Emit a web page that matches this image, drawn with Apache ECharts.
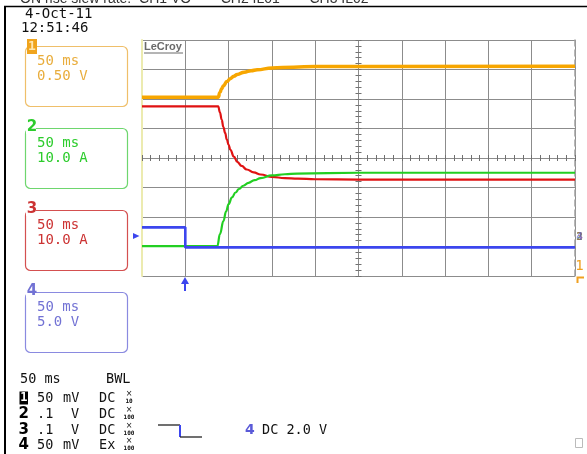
<!DOCTYPE html>
<html>
<head>
<meta charset="utf-8">
<script src="https://cdn.jsdelivr.net/npm/echarts@6/dist/echarts.min.js"></script>
<style>
  html, body { margin: 0; padding: 0; background: #fff; }
  #chart { width: 587px; height: 454px; }
</style>
</head>
<body>
<div id="chart"></div>
<script>
// time: ms from screen centre (50 ms/div), level: screen divisions from centre
const ch1Time  = [-250, -162, -160, -158, -156, -152, -148, -144, -140, -132, -124, -117, -100, -75, -50, 250];
const ch1Level = [2.06, 2.06, 2.22, 2.35, 2.45, 2.59, 2.69, 2.77, 2.83, 2.91, 2.96, 2.99, 3.05, 3.08, 3.10, 3.11];

const ch2Time  = [-250, -163, -160, -156, -153, -150, -146, -142, -138, -133, -127, -120, -113, -100, -85, -71, 0, 250];
const ch2Level = [-2.99, -2.99, -2.58, -2.14, -1.82, -1.56, -1.33, -1.17, -1.05, -0.94, -0.84, -0.75, -0.68, -0.59, -0.55, -0.53, -0.50, -0.50];

const ch3Time  = [-250, -162, -160, -158, -156, -154, -152, -150, -148, -144, -140, -135, -129, -121, -113, -100, -85, -70, -50, 0, 250];
const ch3Level = [1.75, 1.75, 1.55, 1.30, 1.05, 0.85, 0.62, 0.45, 0.28, 0.05, -0.13, -0.27, -0.39, -0.49, -0.56, -0.64, -0.68, -0.70, -0.72, -0.73, -0.73];

const ch4Time  = [-250, -200, -200, 250];
const ch4Level = [-2.35, -2.35, -3.03, -3.03];

const titleText = 'ON rise slew rate:  CH1 VO  —  CH2 IL01  —  CH3 IL02';
const dateText = '4-Oct-11';
const clockText = '12:51:46';

const chanNames = ['1', '2', '3', '4'];
const boxTime = ['50 ms', '50 ms', '50 ms', '50 ms'];
const boxScale = ['0.50 V', '10.0 A', '10.0 A', '5.0 V'];

const timebaseText = '50 ms';
const bwlText = 'BWL';
const rowVolts = ['50', '.1', '.1', '50'];
const rowUnit = ['mV', 'V', 'V', 'mV'];
const rowCoupling = ['DC', 'DC', 'DC', 'Ex'];
const rowProbe = ['10', '100', '100', '100'];
const trigChan = '4';
const trigText = 'DC 2.0 V';

// colours
const traceColors = ['#f7a600', '#22cf22', '#e01212', '#3c46ee'];
const boxStroke = ['#efbf6a', '#6ed66e', '#d45050', '#8a8ae0'];
const boxText = ['#e9ad3c', '#2ccc2c', '#cc3333', '#7272d4'];

const mono = '"DejaVu Sans Mono", monospace';

function zip(t, v) { return t.map((x, i) => [x, v[i]]); }

const chart = echarts.init(document.getElementById('chart'));

const g = [];
// cut title at very top
g.push({ type: 'text', x: 20, y: 6, z: 50,
  style: { text: titleText, font: '14px "Liberation Sans", sans-serif', fill: '#333', verticalAlign: 'bottom' } });
// black frame
g.push({ type: 'line', z: 60, shape: { x1: 4, y1: 6.5, x2: 587, y2: 6.5 }, style: { stroke: '#000', lineWidth: 1.5 } });
g.push({ type: 'line', z: 60, shape: { x1: 5, y1: 6, x2: 5, y2: 454 }, style: { stroke: '#000', lineWidth: 2 } });
// date
g.push({ type: 'text', x: 25, y: 14, style: { text: dateText, font: '14px ' + mono, fill: '#111', verticalAlign: 'middle' } });
g.push({ type: 'text', x: 21, y: 28.5, style: { text: clockText, font: '14px ' + mono, fill: '#111', verticalAlign: 'middle' } });

// channel boxes
for (let i = 0; i < 4; i++) {
  const top = 46 + i * 82;
  g.push({ type: 'rect', z: 10, shape: { x: 25.5, y: top + 0.5, width: 102, height: 60, r: 5 },
    style: { fill: 'none', stroke: boxStroke[i], lineWidth: 1.2 } });
  if (i === 0) {
    g.push({ type: 'rect', z: 11, shape: { x: 27, y: top - 7, width: 10, height: 15 }, style: { fill: '#f0a41c' } });
    g.push({ type: 'text', z: 12, x: 32, y: top + 0.5,
      style: { text: chanNames[i], font: 'bold 13px ' + mono, fill: '#ffe7b0', align: 'center', verticalAlign: 'middle' } });
  } else {
    g.push({ type: 'rect', z: 11, shape: { x: 26, y: top - 5, width: 10, height: 11 }, style: { fill: '#fff' } });
    g.push({ type: 'text', z: 12, x: 32, y: top - 1,
      style: { text: chanNames[i], font: 'bold 15px "DejaVu Sans", sans-serif', fill: boxText[i], align: 'center', verticalAlign: 'middle' } });
  }
  g.push({ type: 'text', z: 12, x: 37, y: top + 15,
    style: { text: boxTime[i], font: '14px ' + mono, fill: boxText[i], verticalAlign: 'middle' } });
  g.push({ type: 'text', z: 12, x: 37, y: top + 30,
    style: { text: boxScale[i], font: '14px ' + mono, fill: boxText[i], verticalAlign: 'middle' } });
}

// LeCroy logo
g.push({ type: 'text', z: 20, x: 144, y: 47,
  style: { text: 'LeCroy', font: 'bold 11px "Liberation Sans", sans-serif', fill: '#6a6a6a', verticalAlign: 'middle' } });
g.push({ type: 'line', z: 20, shape: { x1: 144, y1: 53, x2: 183, y2: 53 }, style: { stroke: '#6a6a6a', lineWidth: 1 } });

// side markers
g.push({ type: 'polygon', z: 20, shape: { points: [[133, 233], [139.5, 236], [133, 239]] }, style: { fill: traceColors[3] } });
g.push({ type: 'text', z: 20, x: 579.5, y: 237, style: { text: '2', font: 'bold 11px ' + mono, fill: '#3fb03f', align: 'center', verticalAlign: 'middle', opacity: 0.7 } });
g.push({ type: 'text', z: 21, x: 579.5, y: 237, style: { text: '3', font: 'bold 11px ' + mono, fill: '#b04040', align: 'center', verticalAlign: 'middle', opacity: 0.6 } });
g.push({ type: 'text', z: 22, x: 579.5, y: 237, style: { text: '4', font: 'bold 11px ' + mono, fill: '#5555cc', align: 'center', verticalAlign: 'middle', opacity: 0.6 } });
g.push({ type: 'text', z: 20, x: 579.5, y: 266, style: { text: '1', font: '14px ' + mono, fill: '#f0a020', align: 'center', verticalAlign: 'middle' } });
g.push({ type: 'polyline', z: 20, shape: { points: [[577.5, 283], [577.5, 277.5], [584, 277.5]] }, style: { stroke: '#f0a020', lineWidth: 2, fill: null } });
// trigger arrow
g.push({ type: 'line', z: 20, shape: { x1: 185, y1: 282, x2: 185, y2: 291 }, style: { stroke: traceColors[3], lineWidth: 2 } });
g.push({ type: 'polygon', z: 20, shape: { points: [[181, 284], [189, 284], [185, 277]] }, style: { fill: traceColors[3] } });

// bottom readout
g.push({ type: 'text', x: 20, y: 379, style: { text: timebaseText, font: '13.5px ' + mono, fill: '#111', verticalAlign: 'middle' } });
g.push({ type: 'text', x: 106, y: 379, style: { text: bwlText, font: '13.5px ' + mono, fill: '#111', verticalAlign: 'middle' } });
const rowY = [398, 414, 430, 445];
for (let i = 0; i < 4; i++) {
  const y = rowY[i];
  if (i === 0) {
    g.push({ type: 'rect', shape: { x: 19.5, y: y - 6.5, width: 8.5, height: 13 }, style: { fill: '#000' } });
    g.push({ type: 'text', x: 23.8, y: y, style: { text: chanNames[i], font: 'bold 12px ' + mono, fill: '#fff', align: 'center', verticalAlign: 'middle' } });
  } else {
    g.push({ type: 'text', x: 23.8, y: y, style: { text: chanNames[i], font: 'bold 15px "DejaVu Sans", sans-serif', fill: '#000', align: 'center', verticalAlign: 'middle' } });
  }
  g.push({ type: 'text', x: 37, y: y, style: { text: rowVolts[i], font: '13.5px ' + mono, fill: '#111', verticalAlign: 'middle' } });
  g.push({ type: 'text', x: rowUnit[i] === 'V' ? 71 : 63, y: y, style: { text: rowUnit[i], font: '13.5px ' + mono, fill: '#111', verticalAlign: 'middle' } });
  g.push({ type: 'text', x: 99, y: y, style: { text: rowCoupling[i], font: '13.5px ' + mono, fill: '#111', verticalAlign: 'middle' } });
  g.push({ type: 'text', x: 129, y: y - 4, style: { text: '×', font: '8px "DejaVu Sans", sans-serif', fill: '#111', align: 'center', verticalAlign: 'middle' } });
  g.push({ type: 'text', x: 129, y: y + 3, style: { text: rowProbe[i], font: 'bold 6px ' + mono, fill: '#111', align: 'center', verticalAlign: 'middle' } });
}
// trigger readout
g.push({ type: 'polyline', shape: { points: [[158, 425], [180, 425]] }, style: { stroke: '#222', lineWidth: 1.3, fill: null } });
g.push({ type: 'polyline', shape: { points: [[180, 425], [180, 437]] }, style: { stroke: traceColors[3], lineWidth: 2, fill: null } });
g.push({ type: 'polyline', shape: { points: [[180, 437], [202, 437]] }, style: { stroke: '#222', lineWidth: 1.3, fill: null } });
g.push({ type: 'text', x: 245, y: 430, style: { text: trigChan, font: 'bold 14px "DejaVu Sans", sans-serif', fill: '#5a5ad8', verticalAlign: 'middle' } });
g.push({ type: 'text', x: 262, y: 430, style: { text: trigText, font: '13.5px ' + mono, fill: '#111', verticalAlign: 'middle' } });
// small square bottom right
g.push({ type: 'rect', shape: { x: 575.5, y: 438.5, width: 7, height: 9 }, style: { fill: 'none', stroke: '#bbb', lineWidth: 1 } });

const hidden = { show: false };
const centreTick = { show: true, length: 3, lineStyle: { color: '#707070', width: 1 } };

function xAx(extra) {
  return Object.assign({ type: 'value', min: -250, max: 250, axisLabel: hidden, splitLine: hidden }, extra);
}
function yAx(extra) {
  return Object.assign({ type: 'value', min: -4, max: 4, axisLabel: hidden, splitLine: hidden }, extra);
}

function traceSeries(name, time, level, color, width, smooth) {
  return {
    name: name, type: 'line', xAxisIndex: 0, yAxisIndex: 0,
    data: zip(time, level), showSymbol: false, symbol: 'none',
    smooth: smooth ? 0.45 : false, smoothMonotone: 'x',
    lineStyle: { color: color, width: width }, animation: false
  };
}

chart.setOption({
  animation: false,
  backgroundColor: '#fff',
  grid: { left: 142, top: 40, right: 12, bottom: 178, containLabel: false },
  xAxis: [
    xAx({ interval: 50, position: 'bottom', axisLine: { show: false, onZero: false }, axisTick: hidden,
      splitLine: { show: true, lineStyle: { color: '#8c8c8c', width: 1 } } }),
    xAx({ interval: 10, position: 'bottom', axisLine: { show: false, onZero: true }, axisTick: centreTick }),
    xAx({ interval: 10, position: 'top', axisLine: { show: false, onZero: true }, axisTick: centreTick })
  ],
  yAxis: [
    yAx({ interval: 1, position: 'left', axisLine: { show: true, onZero: false, lineStyle: { color: '#ecebb0', width: 2 } },
      axisTick: hidden, splitLine: { show: true, lineStyle: { color: '#8c8c8c', width: 1 } } }),
    yAx({ interval: 1, position: 'right', axisLine: { show: true, onZero: false, lineStyle: { color: '#a0a0a0', width: 1.5, type: [6, 4] } },
      axisTick: hidden }),
    yAx({ interval: 0.2, position: 'left', axisLine: { show: false, onZero: true }, axisTick: centreTick }),
    yAx({ interval: 0.2, position: 'right', axisLine: { show: false, onZero: true }, axisTick: centreTick })
  ],
  series: [
    traceSeries('CH1', ch1Time, ch1Level, traceColors[0], 3.5, true),
    traceSeries('CH3', ch3Time, ch3Level, traceColors[2], 2.2, true),
    traceSeries('CH2', ch2Time, ch2Level, traceColors[1], 2.2, true),
    traceSeries('CH4', ch4Time, ch4Level, traceColors[3], 2.6, false)
  ],
  graphic: g
});
</script>
</body>
</html>
